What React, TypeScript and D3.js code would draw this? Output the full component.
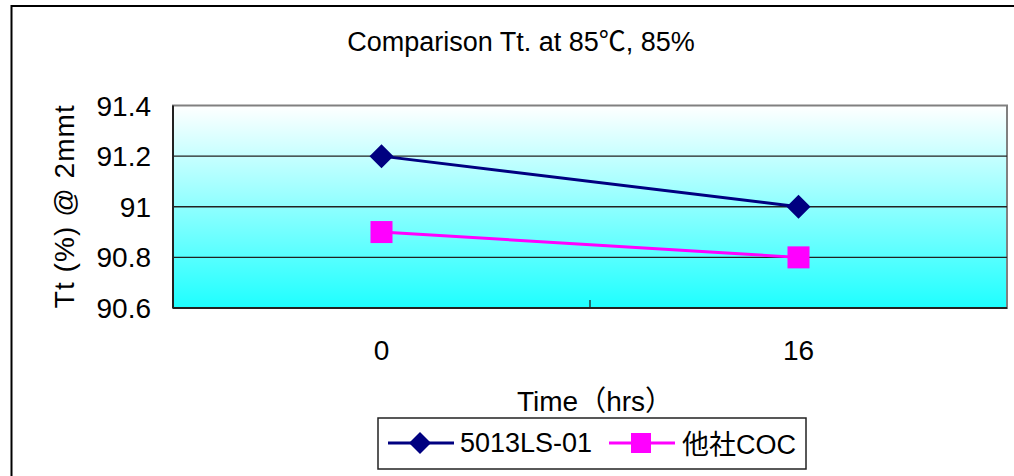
import * as d3 from 'd3';

const categories = ['0', '16'];
const series1 = [91.2, 91.0]; // 5013LS-01
const series2 = [90.9, 90.8]; // 他社COC
const yTicks = [90.6, 90.8, 91, 91.2, 91.4];
const seriesNames = ['5013LS-01', '他社COC'];

const W = 1014,
    H = 476;
const plot = { left: 173, right: 1007, top: 105.5, bottom: 308 };
const font = 'Arial, "Liberation Sans", "Noto Sans CJK JP", sans-serif';

export default function App() {
    const x = d3.scaleBand<string>().domain(categories).range([plot.left, plot.right]).padding(0);
    const cx = (c: string) => (x(c) ?? 0) + x.bandwidth() / 2;
    const y = d3.scaleLinear().domain([90.6, 91.4]).range([plot.bottom, plot.top]);

    const line = d3
        .line<number>()
        .x((_, i) => cx(categories[i]))
        .y((d) => y(d));

    const diamond = (px: number, py: number, r: number) =>
        `M${px},${py - r}L${px + r},${py}L${px},${py + r}L${px - r},${py}Z`;

    return (
        <svg width={W} height={H} style={{ position: 'absolute', left: 0, top: 0, display: 'block' }} fontFamily={font}>
            <defs>
                <linearGradient id="bg" x1="0" y1="0" x2="0" y2="1">
                    <stop offset="0" stopColor="#ffffff" />
                    <stop offset="1" stopColor="#1effff" />
                </linearGradient>
            </defs>
            <rect x={0} y={0} width={W} height={H} fill="#fff" />
            {/* outer chart border, right and bottom edges run off the picture */}
            <path d={`M11.5,${H + 2}V6H${W + 2}`} fill="none" stroke="#000" strokeWidth={2} />

            <text x={521} y={51} textAnchor="middle" fontSize={27}>
                Comparison Tt. at 85℃, 85%
            </text>

            <rect
                x={plot.left}
                y={plot.top}
                width={plot.right - plot.left}
                height={plot.bottom - plot.top}
                fill="url(#bg)"
                stroke="#808080"
                strokeWidth={2}
            />
            {yTicks.slice(1, -1).map((t) => (
                <line key={t} x1={plot.left} x2={plot.right} y1={y(t)} y2={y(t)} stroke="#222" strokeWidth={1.3} />
            ))}
            <line x1={plot.left} x2={plot.left} y1={plot.top} y2={plot.bottom} stroke="#222" strokeWidth={2} />
            <line x1={plot.left} x2={plot.right} y1={plot.bottom} y2={plot.bottom} stroke="#222" strokeWidth={2} />
            {categories.map((c) => (
                <line
                    key={c}
                    x1={x(c)}
                    x2={x(c)}
                    y1={plot.bottom}
                    y2={plot.bottom - 8}
                    stroke="#222"
                    strokeWidth={1.3}
                />
            ))}

            {yTicks.map((t) => (
                <text key={t} x={151} y={y(t)} dy="0.36em" textAnchor="end" fontSize={28}>
                    {t}
                </text>
            ))}
            {categories.map((c) => (
                <text key={c} x={cx(c)} y={360} textAnchor="middle" fontSize={28}>
                    {c}
                </text>
            ))}

            <text
                transform={`translate(74,${(plot.top + plot.bottom) / 2}) rotate(-90)`}
                textAnchor="middle"
                fontSize={28}
                textLength={203}
            >
                Tt (%) @ 2mmt
            </text>
            <text x={595} y={411} textAnchor="middle" fontSize={28}>
                Time（hrs）
            </text>

            <path d={line(series1) ?? ''} fill="none" stroke="#000080" strokeWidth={3} />
            <path d={line(series2) ?? ''} fill="none" stroke="#ff00ff" strokeWidth={3} />
            {series1.map((v, i) => (
                <path key={i} d={diamond(cx(categories[i]), y(v), 12)} fill="#000080" />
            ))}
            {series2.map((v, i) => (
                <rect key={i} x={cx(categories[i]) - 11} y={y(v) - 11} width={22} height={22} fill="#ff00ff" />
            ))}

            {/* legend */}
            <rect x={378} y={418} width={428} height={51} fill="#fff" stroke="#222" strokeWidth={1.5} />
            <line x1={388} x2={454} y1={443} y2={443} stroke="#000080" strokeWidth={3} />
            <path d={diamond(420, 443, 11)} fill="#000080" />
            <text x={460} y={452} fontSize={27}>
                {seriesNames[0]}
            </text>
            <line x1={609} x2={675} y1={443} y2={443} stroke="#ff00ff" strokeWidth={3} />
            <rect x={631} y={433} width={20} height={20} fill="#ff00ff" />
            <text x={682} y={454} fontSize={27}>
                {seriesNames[1]}
            </text>
        </svg>
    );
}
